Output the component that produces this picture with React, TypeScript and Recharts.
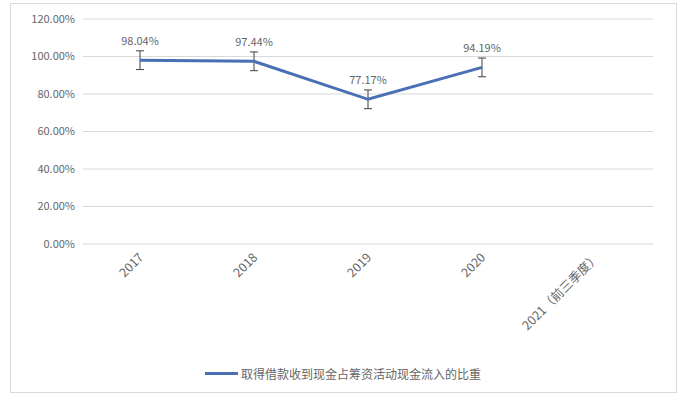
import React, { useEffect } from 'react';
import {
  LineChart, Line, XAxis, YAxis, CartesianGrid, Legend, ErrorBar, LabelList,
} from 'recharts';

const categories = ['2017', '2018', '2019', '2020', '2021（前三季度）'];
const ratio = [98.04, 97.44, 77.17, 94.19, null];
const errors = [5, 5, 5, 5, null];
const yTicks = [0, 20, 40, 60, 80, 100, 120];
const seriesName = '取得借款收到现金占筹资活动现金流入的比重';

const FONT = '"Noto Sans CJK SC", "Noto Sans", sans-serif';
const TEXT = '#666666';

const data = categories.map((c, i) => ({ year: c, ratio: ratio[i], err: errors[i] }));

function XTick(props: any) {
  const { x, y, payload } = props;
  return (
    <g transform={`translate(${x},${y + 2})`}>
      <text textAnchor="end" fill={TEXT} fontSize={12.5} fontFamily={FONT} transform="rotate(-45)" dy={6}>
        {payload.value}
      </text>
    </g>
  );
}

function LegendContent() {
  return (
    <div style={{ display: 'flex', alignItems: 'center', justifyContent: 'center', fontFamily: FONT, fontSize: 12, color: TEXT }}>
      <span style={{ display: 'inline-block', width: 33, height: 3, background: '#4a6fb5', marginRight: 3 }} />
      <span>{seriesName}</span>
    </div>
  );
}

export default function App() {
  useEffect(() => {
    document.body.style.margin = '0';
  }, []);

  return (
    <div style={{ position: 'relative', width: 686, height: 402, background: '#fff' }}>
      <div style={{ position: 'absolute', left: 10, top: 3, width: 665, height: 388, border: '1px solid #d9d9d9' }} />
      <LineChart
        width={686}
        height={402}
        data={data}
        margin={{ top: 19, right: 33, left: 10, bottom: 18 }}
        style={{ position: 'absolute', left: 0, top: 0 }}
      >
        <CartesianGrid vertical={false} stroke="#d9d9d9" />
        <XAxis
          dataKey="year"
          interval={0}
          axisLine={false}
          tickLine={false}
          height={123}
          padding={{ left: 57, right: 57 }}
          tick={<XTick />}
        />
        <YAxis
          domain={[0, 120]}
          ticks={yTicks}
          axisLine={false}
          tickLine={false}
          width={73}
          tickFormatter={(v: number) => v.toFixed(2) + '%'}
          tick={{ fill: TEXT, fontSize: 11, fontFamily: FONT }}
        />
        <Legend verticalAlign="bottom" content={<LegendContent />} wrapperStyle={{ left: 0, width: 686, bottom: 20 }} />
        <Line
          type="linear"
          dataKey="ratio"
          name={seriesName}
          stroke="#4a6fb5"
          strokeWidth={3}
          dot={false}
          activeDot={false}
          isAnimationActive={false}
        >
          <ErrorBar dataKey="err" direction="y" width={4} stroke="#404040" strokeWidth={1} isAnimationActive={false} />
          <LabelList
            dataKey="ratio"
            position="top"
            offset={15}
            fill={TEXT}
            fontSize={11}
            fontFamily={FONT}
            formatter={(v: any) => (v == null ? '' : Number(v).toFixed(2) + '%')}
          />
        </Line>
      </LineChart>
    </div>
  );
}
